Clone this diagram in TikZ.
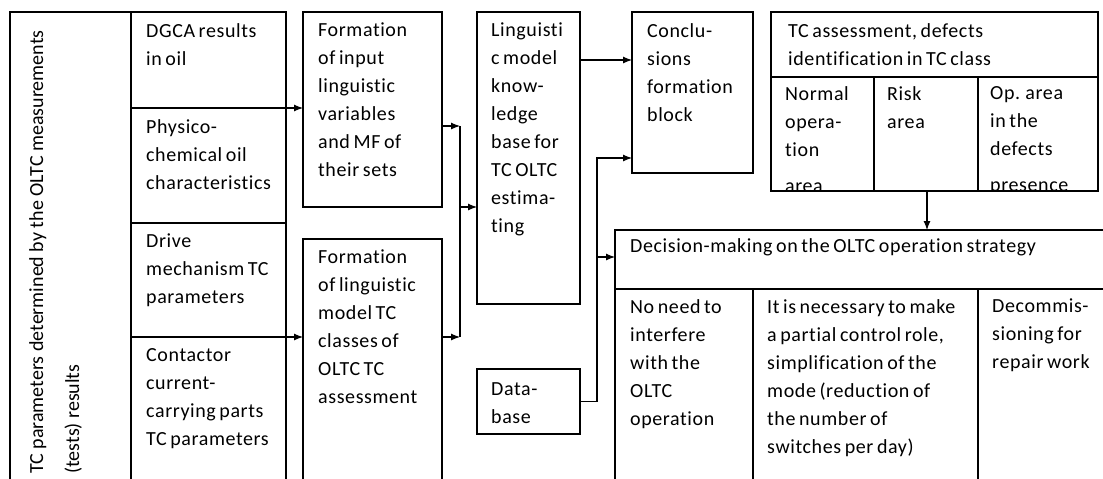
\documentclass[tikz,border=0pt]{standalone}
\usepackage{fontspec}
\setmainfont{Carlito}[Ligatures=NoCommon]
\newfontfamily\boxfont{Carlito}[Ligatures=NoCommon, LetterSpace=3, WordSpace=0.7]
\usetikzlibrary{positioning,arrows.meta}
\tikzset{
  blk/.style={draw, line width=1.1pt, anchor=north west, inner sep=0pt, outer sep=0pt},
  txt/.style={anchor=north west, align=left, inner sep=0pt, font=\boxfont\fontsize{20}{28}\selectfont},
  edgear/.style={line width=1.1pt, -{Latex[length=9pt,width=7pt]}},
  edgeln/.style={line width=1.1pt}
}

\begin{document}
\begin{tikzpicture}[x=1pt, y=-1pt]
\useasboundingbox (0,0) rectangle (1103,479);
\clip (0,0) rectangle (1103,479);
% measured parameters
\node[blk, minimum width=121pt, minimum height=488pt] (tcpar) at (10,12) {};
\node[blk, minimum width=155pt, minimum height=96pt] (dgca) at (131,12) {};
\node[blk, minimum width=155pt, minimum height=115pt, below=0pt of dgca] (phys) {};
\node[blk, minimum width=155pt, minimum height=114pt, below=0pt of phys] (drive) {};
\node[blk, minimum width=155pt, minimum height=163pt, below=0pt of drive] (cont) {};
\node[txt, rotate=90, font=\rmfamily\fontsize{20}{36}\selectfont] (tcpart) at (29,474)
  {TC parameters determined by the OLTC measurements\\(tests) results};
\node[txt] (dgcat) at ([xshift=15pt,yshift=-11pt]dgca.north west) {DGCA results\\in oil};
\node[txt] (physt) at ([xshift=15pt,yshift=-11pt]phys.north west) {Physico-\\chemical oil\\characteristics};
\node[txt] (drivet) at ([xshift=15pt,yshift=-11pt]drive.north west) {Drive\\mechanism TC\\parameters};
\node[txt] (contt) at ([xshift=15pt,yshift=-11pt]cont.north west) {Contactor\\current-\\carrying parts\\TC parameters};
% linguistic model
\node[blk, minimum width=139pt, minimum height=195pt] (inlv) at (303,12) {};
\node[blk, minimum width=139pt, minimum height=261pt] (lmcls) at (303,239) {};
\node[blk, minimum width=103pt, minimum height=292pt] (kbase) at (477,12) {};
\node[blk, minimum width=103pt, minimum height=65pt] (dbase) at (477,369) {};
\node[txt] (inlvt) at ([xshift=15pt,yshift=-11pt]inlv.north west) {Formation\\of input\\linguistic\\variables\\and MF of\\their sets};
\node[txt] (lmclst) at ([xshift=15pt,yshift=-11pt]lmcls.north west) {Formation\\of linguistic\\model TC\\classes of\\OLTC TC\\assessment};
\node[txt] (kbaset) at ([xshift=14pt,yshift=-11pt]kbase.north west) {Linguisti\\c model\\know-\\ledge\\base for\\TC OLTC\\estima-\\ting};
\node[txt] (dbaset) at ([xshift=14pt,yshift=-13pt]dbase.north west) {Data-\\base};
% conclusions and TC classes
\node[blk, minimum width=121pt, minimum height=161pt] (concl) at (632,12) {};
\node[blk, minimum width=327pt, minimum height=65pt] (tchead) at (771,12) {};
\node[blk, minimum width=103pt, minimum height=114pt] (normal) at (771,77) {};
\node[blk, minimum width=104pt, minimum height=114pt] (risk) at (874,77) {};
\node[blk, minimum width=120pt, minimum height=114pt] (opdef) at (978,77) {};
\node[txt] (conclt) at ([xshift=15pt,yshift=-11pt]concl.north west) {Conclu-\\sions\\formation\\block};
\node[txt] (tcheadt) at ([xshift=17pt,yshift=-11pt]tchead.north west) {TC assessment, defects\\identification in TC class};
\begin{scope}
\clip (normal.north west) rectangle (normal.south east);
\node[txt] (normalt) at ([xshift=14pt,yshift=-9pt]normal.north west) {Normal\\opera-\\tion\\[8pt]area};
\end{scope}
\node[txt] (riskt) at ([xshift=13pt,yshift=-9pt]risk.north west) {Risk\\area};
\begin{scope}
\clip (opdef.north west) rectangle (opdef.south east);
\node[txt] (opdeft) at ([xshift=12pt,yshift=-9pt]opdef.north west) {Op. area\\in the\\defects\\[8pt]presence};
\end{scope}
% decision making
\node[blk, minimum width=495pt, minimum height=59pt] (dchead) at (615,230) {};
\node[blk, minimum width=138pt, minimum height=211pt] (noneed) at (615,289) {};
\node[blk, minimum width=225pt, minimum height=211pt] (partial) at (753,289) {};
\node[blk, minimum width=132pt, minimum height=211pt] (decomm) at (978,289) {};
\node[txt] (dcheadt) at ([xshift=15pt,yshift=-8pt]dchead.north west) {Decision-making on the OLTC operation strategy};
\node[txt] (noneedt) at ([xshift=15pt,yshift=-10pt]noneed.north west) {No need to\\interfere\\with the\\OLTC\\operation};
\node[txt] (partialt) at ([xshift=14pt,yshift=-10pt]partial.north west) {It is necessary to make\\a partial control role,\\simplification of the\\mode (reduction of\\the number of\\switches per day)};
\node[txt] (decommt) at ([xshift=14pt,yshift=-10pt]decomm.north west) {Decommis-\\sioning for\\repair work};
% connectors
\coordinate (jtop) at (460,126);
\coordinate (jmid) at (460,207);
\coordinate (jbot) at (460,337);
\coordinate (dbus) at (597,158);
\coordinate (dbr) at (597,257);
\coordinate (tcout) at (927,191);
\draw[edgear] (dgca.south east) -- (dgca.south east -| inlv.west);
\draw[edgear] (drive.south east) -- (drive.south east -| lmcls.west);
\draw[edgear] (inlv.east |- jtop) -- (jtop);
\draw[edgear] (lmcls.east |- jbot) -- (jbot);
\draw[edgeln] (jtop) -- (jbot);
\draw[edgear] (jmid) -- (jmid -| kbase.west);
\draw[edgear] ([yshift=-48pt]kbase.north east) -- ([yshift=-48pt]concl.north west);
\draw[edgear] (dbase.east) -| (dbus) -- (dbus -| concl.west);
\draw[edgear] (dbr) -- (dbr -| dchead.west);
\draw[edgear] (tcout) -- (tcout |- dchead.north);
\end{tikzpicture}
\end{document}
